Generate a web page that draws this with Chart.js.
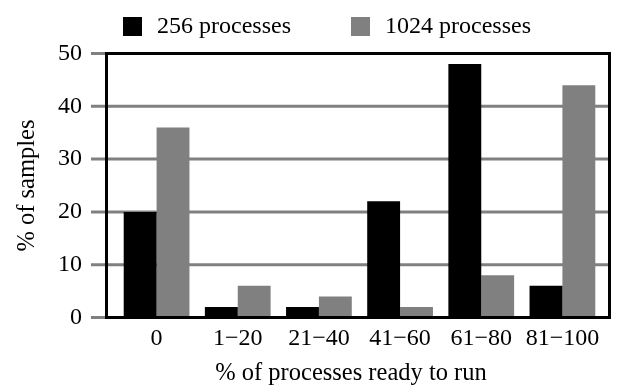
<!DOCTYPE html>
<html>
<head>
<meta charset="utf-8">
<script src="https://cdn.jsdelivr.net/npm/chart.js@4/dist/chart.umd.min.js"></script>
<style>
html,body{margin:0;padding:0;background:#fff;}
#wrap{width:625px;height:388px;position:relative;}
#probe{position:absolute;left:-9999px;top:0;font-family:"Liberation Serif","Times New Roman",Times,"DejaVu Serif",serif;font-size:24px;}
</style>
</head>
<body>
<span id="probe">256 processes 0123456789</span>
<div id="wrap"><canvas id="c" width="625" height="388"></canvas></div>
<script>
const categories = ['0', '1\u221220', '21\u221240', '41\u221260', '61\u221280', '81\u2212100'];
const seriesNames = ['256 processes', '1024 processes'];
const values256 = [20, 2, 2, 22, 48, 6];
const values1024 = [36, 6, 4, 2, 8, 44];
const yTicks = [0, 10, 20, 30, 40, 50];
const xTitle = '% of processes ready to run';
const yTitle = '% of samples';

const FONT = '"Liberation Serif", "Times New Roman", Times, "DejaVu Serif", serif';
const GRAY = '#808080';

const decor = {
  id: 'decor',
  beforeDatasetsDraw(chart) {
    const ctx = chart.ctx, ca = chart.chartArea, y = chart.scales.y;
    const frameRight = ca.right + 6.5;
    ctx.save();
    ctx.strokeStyle = GRAY;
    ctx.lineWidth = 3;
    yTicks.forEach(v => {
      const py = y.getPixelForValue(v);
      ctx.beginPath();
      ctx.moveTo(91, py);
      ctx.lineTo(frameRight, py);
      ctx.stroke();
    });
    ctx.restore();
  },
  afterDatasetsDraw(chart) {
    const ctx = chart.ctx, ca = chart.chartArea;
    ctx.save();
    ctx.strokeStyle = '#000';
    ctx.lineWidth = 3;
    const fl = ca.left - 9.5, fr = ca.right + 6.5;
    ctx.strokeRect(fl, ca.top, fr - fl, ca.bottom - ca.top);
    // legend
    const items = chart.data.datasets.map(d => ({label: d.label, color: d.backgroundColor}));
    const boxX = [123, 351];
    ctx.font = '24px ' + FONT;
    ctx.textBaseline = 'middle';
    ctx.textAlign = 'left';
    items.forEach((it, i) => {
      ctx.fillStyle = it.color;
      ctx.fillRect(boxX[i], 17, 19, 19);
      ctx.fillStyle = '#000';
      ctx.fillText(it.label, boxX[i] + 34, 27);
    });
    // x axis title
    ctx.font = '24.5px ' + FONT;
    ctx.textAlign = 'center';
    ctx.textBaseline = 'alphabetic';
    ctx.fillText(xTitle, (fl + fr) / 2 - 7, 380);
    ctx.restore();
  }
};

function build() {
  new Chart(document.getElementById('c'), {
    type: 'bar',
    data: {
      labels: categories,
      datasets: [
        {label: seriesNames[0], data: values256, backgroundColor: '#000000', borderWidth: 0},
        {label: seriesNames[1], data: values1024, backgroundColor: GRAY, borderWidth: 0}
      ]
    },
    options: {
      responsive: false,
      animation: false,
      devicePixelRatio: 1,
      layout: {padding: {left: 0, right: 22, top: 53.5, bottom: 0}},
      datasets: {bar: {categoryPercentage: 0.81, barPercentage: 1.0}},
      plugins: {legend: {display: false}, tooltip: {enabled: false}},
      scales: {
        x: {
          grid: {display: false, drawTicks: false},
          border: {display: false},
          ticks: {color: '#000', font: {family: FONT, size: 24}, padding: 7, maxRotation: 0, autoSkip: false},
          title: {display: false, text: xTitle},
          afterFit(s) { s.height = 70.5; }
        },
        y: {
          min: 0, max: 50,
          grid: {display: false, drawTicks: false},
          border: {display: false},
          afterBuildTicks(s) { s.ticks = yTicks.map(v => ({value: v})); },
          ticks: {color: '#000', font: {family: FONT, size: 24}, padding: 34},
          title: {display: true, text: yTitle, color: '#000', font: {family: FONT, size: 24.5}, padding: {top: 13, bottom: 0}},
          afterFit(s) { s.width = 116; }
        }
      }
    },
    plugins: [decor]
  });
}

if (document.fonts && document.fonts.load) {
  document.fonts.load('24px "Liberation Serif"').then(build, build);
} else {
  build();
}
</script>
</body>
</html>
